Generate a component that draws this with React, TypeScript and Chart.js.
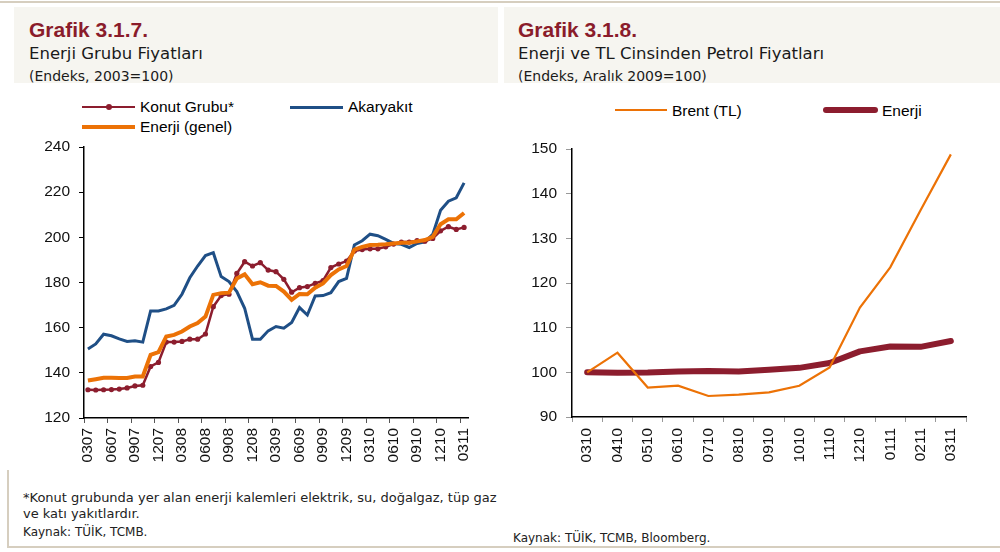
import React, { useEffect, useRef } from "react";
import { Chart, registerables } from "chart.js";

Chart.register(...registerables);

// ---------- data: Grafik 3.1.7 ----------
const leftLabels = [
  "0307", "0407", "0507", "0607", "0707", "0807", "0907", "1007", "1107", "1207", "0108", "0208",
  "0308", "0408", "0508", "0608", "0708", "0808", "0908", "1008", "1108", "1208", "0109", "0209",
  "0309", "0409", "0509", "0609", "0709", "0809", "0909", "1009", "1109", "1209", "0110", "0210",
  "0310", "0410", "0510", "0610", "0710", "0810", "0910", "1010", "1110", "1210", "0111", "0211",
  "0311",
];
const konutName = "Konut Grubu*";
const akaryakitName = "Akaryakıt";
const enerjiGenelName = "Enerji (genel)";
const konutValues = [
  132.5, 132.4, 132.5, 132.6, 132.8, 133.3, 134.2, 134.5, 142.8, 144.6, 153.6, 153.6,
  153.9, 154.9, 154.9, 157.2, 169.3, 174.2, 174.8, 184.0, 189.2, 187.3, 188.8, 185.5,
  184.8, 181.4, 175.7, 177.7, 178.2, 179.6, 180.8, 186.6, 188.2, 189.5, 193.9, 194.6,
  194.9, 194.9, 195.8, 197.0, 197.9, 197.9, 198.5, 198.3, 199.5, 202.9, 204.7, 203.5,
  204.4,
];
const akaryakitValues = [
  150.6, 152.8, 157.1, 156.4, 155.0, 153.9, 154.2, 153.6, 167.4, 167.4, 168.3, 169.9,
  174.8, 182.1, 187.3, 191.9, 193.2, 182.6, 180.4, 176.0, 168.6, 154.9, 154.9, 158.6,
  160.5, 159.8, 162.3, 168.9, 165.6, 174.0, 174.2, 175.5, 180.4, 181.8, 196.6, 198.5,
  201.4, 200.7, 199.1, 197.3, 196.9, 195.5, 197.3, 198.0, 201.3, 212.0, 216.0, 217.5,
  224.1,
];
const enerjiGenelValues = [
  136.6, 137.2, 137.8, 137.8, 137.7, 137.7, 138.4, 138.4, 148.0, 149.2, 156.1, 156.8,
  158.3, 160.5, 162.0, 164.9, 174.5, 175.3, 175.5, 181.8, 183.6, 179.2, 180.1, 178.6,
  178.5, 176.0, 172.3, 174.9, 174.8, 177.7, 179.6, 183.3, 185.8, 187.3, 194.6, 195.8,
  196.6, 196.7, 196.9, 197.3, 197.6, 197.6, 198.2, 198.8, 200.2, 205.8, 208.0, 208.0,
  210.8,
];

// ---------- data: Grafik 3.1.8 ----------
const rightLabels = [
  "0310", "0410", "0510", "0610", "0710", "0810", "0910", "1010", "1110", "1210", "0111", "0211", "0311",
];
const brentName = "Brent (TL)";
const enerjiName = "Enerji";
const brentValues = [100, 104.4, 96.6, 97.0, 94.7, 95.0, 95.5, 97.0, 101.1, 114.5, 123.5, 136.3, 148.8];
const enerjiValues = [100, 99.9, 99.95, 100.2, 100.3, 100.2, 100.6, 101.0, 102.1, 104.7, 105.8, 105.7, 107.0];

// ---------- styles ----------
const RED = "#8c1d2e";
const BLUE = "#1f4f86";
const ORANGE = "#ec7206";
const TITLE_RED = "#8a1c2b";
const BORDER = "#d6cebf";
const BAND = "#f6f5f0";
const FONT = "'Liberation Sans', Arial, sans-serif";
const HEAD = "'DejaVu Sans', sans-serif";

function ChartCanvas({ config, left, top, width, height }: any) {
  const ref = useRef<HTMLCanvasElement | null>(null);
  useEffect(() => {
    if (!ref.current) return;
    const chart = new Chart(ref.current, config);
    return () => chart.destroy();
  }, []);
  return (
    <canvas
      ref={ref}
      width={width}
      height={height}
      style={{ position: "absolute", left, top, width, height }}
    />
  );
}

function Txt({ x, y, size, family = HEAD, weight = 400, color = "#1a1a1a", children }: any) {
  // y is the baseline
  return (
    <div
      style={{
        position: "absolute",
        left: x,
        top: y - 0.846 * size,
        fontSize: size,
        lineHeight: 1,
        fontFamily: family,
        fontWeight: weight,
        color,
        whiteSpace: "nowrap",
      }}
    >
      {children}
    </div>
  );
}

function Swatch({ x1, x2, y, w, color, round = false, dot = false }: any) {
  return (
    <>
      <div
        style={{
          position: "absolute",
          left: x1,
          top: y - w / 2,
          width: x2 - x1,
          height: w,
          background: color,
          borderRadius: round ? w / 2 : 0,
        }}
      />
      {dot && (
        <div
          style={{
            position: "absolute",
            left: (x1 + x2) / 2 - 3,
            top: y - 3,
            width: 6,
            height: 6,
            borderRadius: 3,
            background: color,
          }}
        />
      )}
    </>
  );
}

const tickFont = { family: FONT, size: 15.5 };

const leftConfig: any = {
  type: "line",
  data: {
    labels: leftLabels,
    datasets: [
      {
        label: enerjiGenelName,
        data: enerjiGenelValues,
        borderColor: ORANGE,
        borderWidth: 4,
        pointRadius: 0,
        tension: 0,
        order: 0,
      },
      {
        label: konutName,
        data: konutValues,
        borderColor: RED,
        backgroundColor: RED,
        borderWidth: 2.5,
        pointRadius: 2.6,
        pointBorderWidth: 0,
        pointBackgroundColor: RED,
        tension: 0,
        order: 1,
      },
      {
        label: akaryakitName,
        data: akaryakitValues,
        borderColor: BLUE,
        borderWidth: 3,
        pointRadius: 0,
        tension: 0,
        order: 2,
      },
    ],
  },
  options: {
    responsive: false,
    animation: false,
    events: [],
    layout: { padding: { left: 0, top: 57, right: 32, bottom: 0 } },
    plugins: { legend: { display: false }, tooltip: { enabled: false } },
    scales: {
      x: {
        offset: true,
        grid: {
          offset: true,
          drawOnChartArea: false,
          tickLength: 5,
          tickColor: (ctx: any) => (ctx.index !== undefined && ctx.index % 3 === 0 ? "#555" : "rgba(0,0,0,0)"),
        },
        border: { color: "#000", width: 1.5 },
        ticks: {
          autoSkip: false,
          maxRotation: 90,
          minRotation: 90,
          padding: 5,
          color: "#111",
          font: tickFont,
          callback: (_v: any, i: number) => (i % 3 === 0 ? leftLabels[i] : ""),
        },
        afterFit: (s: any) => {
          s.height = 62;
        },
      },
      y: {
        min: 120,
        max: 240,
        ticks: { stepSize: 20, padding: 9, color: "#111", font: tickFont },
        grid: { drawOnChartArea: false, tickLength: 5, tickColor: "#000" },
        border: { color: "#000", width: 1.5 },
        afterFit: (s: any) => {
          s.width = 84;
        },
      },
    },
  },
};

const rightConfig: any = {
  type: "line",
  data: {
    labels: rightLabels,
    datasets: [
      {
        label: brentName,
        data: brentValues,
        borderColor: ORANGE,
        borderWidth: 2.2,
        pointRadius: 0,
        tension: 0,
        order: 0,
      },
      {
        label: enerjiName,
        data: enerjiValues,
        borderColor: RED,
        borderWidth: 6,
        borderCapStyle: "round",
        borderJoinStyle: "round",
        pointRadius: 0,
        tension: 0,
        order: 1,
      },
    ],
  },
  options: {
    responsive: false,
    animation: false,
    events: [],
    layout: { padding: { left: 0, top: 59, right: 34, bottom: 0 } },
    plugins: { legend: { display: false }, tooltip: { enabled: false } },
    scales: {
      x: {
        offset: true,
        grid: { offset: true, drawOnChartArea: false, tickLength: 5, tickColor: "#999" },
        border: { color: "#000", width: 1.5 },
        ticks: {
          autoSkip: false,
          maxRotation: 90,
          minRotation: 90,
          padding: 6,
          color: "#111",
          font: tickFont,
        },
        afterFit: (s: any) => {
          s.height = 63;
        },
      },
      y: {
        min: 90,
        max: 150,
        ticks: { stepSize: 10, padding: 9, color: "#111", font: tickFont },
        grid: { drawOnChartArea: false, tickLength: 6, tickColor: "#999" },
        border: { color: "#000", width: 1.5 },
        afterFit: (s: any) => {
          s.width = 72;
        },
      },
    },
  },
};

export default function App() {
  return (
    <div
      style={{
        position: "absolute",
        left: 0,
        top: 0,
        width: 1000,
        height: 552,
        background: "#fff",
        overflow: "hidden",
      }}
    >
      {/* frame */}
      <div style={{ position: "absolute", left: 0, top: 1, width: 1000, height: 2, background: BORDER }} />
      <div style={{ position: "absolute", left: 7, top: 546, width: 993, height: 2, background: BORDER }} />
      <div style={{ position: "absolute", left: 7, top: 470, width: 1.5, height: 78, background: BORDER }} />
      <div style={{ position: "absolute", left: 14, top: 7, width: 484, height: 76, background: BAND }} />
      <div style={{ position: "absolute", left: 504, top: 7, width: 496, height: 76, background: BAND }} />

      {/* left header */}
      <Txt x={29} y={37} size={21} family={FONT} weight={700} color={TITLE_RED}>Grafik 3.1.7.</Txt>
      <Txt x={29} y={60} size={16.5}>Enerji Grubu Fiyatları</Txt>
      <Txt x={29} y={81} size={14}>(Endeks, 2003=100)</Txt>

      {/* right header */}
      <Txt x={518} y={37} size={21} family={FONT} weight={700} color={TITLE_RED}>Grafik 3.1.8.</Txt>
      <Txt x={518} y={60} size={16.5}>Enerji ve TL Cinsinden Petrol Fiyatları</Txt>
      <Txt x={518} y={81} size={14}>(Endeks, Aralık 2009=100)</Txt>

      {/* left legend */}
      <Swatch x1={82} x2={135} y={107} w={2.5} color={RED} dot />
      <Txt x={140} y={112} size={15.5} family={FONT} color="#000">{konutName}</Txt>
      <Swatch x1={290} x2={343} y={107} w={3} color={BLUE} />
      <Txt x={348} y={112} size={15.5} family={FONT} color="#000">{akaryakitName}</Txt>
      <Swatch x1={82} x2={135} y={127} w={4} color={ORANGE} />
      <Txt x={140} y={132} size={15.5} family={FONT} color="#000">{enerjiGenelName}</Txt>

      {/* right legend */}
      <Swatch x1={615} x2={667} y={110} w={2} color={ORANGE} />
      <Txt x={672} y={116} size={15.5} family={FONT} color="#000">{brentName}</Txt>
      <Swatch x1={823} x2={878} y={110} w={6} color={RED} round />
      <Txt x={882} y={116} size={15.5} family={FONT} color="#000">{enerjiName}</Txt>

      {/* charts */}
      <ChartCanvas config={leftConfig} left={0} top={90} width={500} height={390} />
      <ChartCanvas config={rightConfig} left={500} top={90} width={500} height={390} />

      {/* footnotes */}
      <Txt x={23} y={502} size={13} color="#222">
        *Konut grubunda yer alan enerji kalemleri elektrik, su, doğalgaz, tüp gaz
      </Txt>
      <Txt x={23} y={518} size={13} color="#222">ve katı yakıtlardır.</Txt>
      <Txt x={23} y={536} size={12} color="#222">Kaynak: TÜİK, TCMB.</Txt>
      <Txt x={513} y={542} size={12} color="#222">Kaynak: TÜİK, TCMB, Bloomberg.</Txt>
    </div>
  );
}
